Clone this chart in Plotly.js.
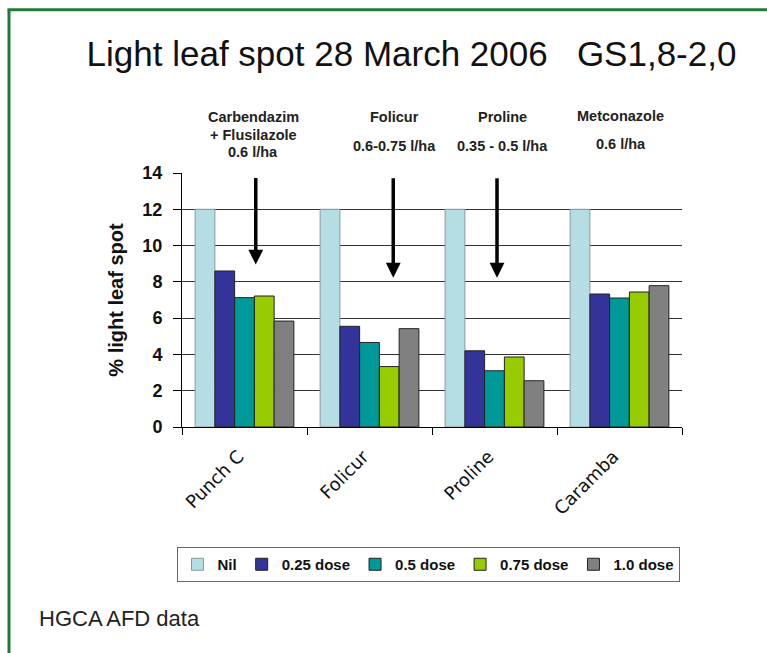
<!DOCTYPE html>
<html>
<head>
<meta charset="utf-8">
<script src="https://cdn.plot.ly/plotly-3.0.1.min.js"></script>
<style>
  html, body { margin: 0; padding: 0; background: #ffffff; }
  #chart { width: 767px; height: 653px; }
</style>
</head>
<body>
<div id="chart"></div>
<script>
// ---- data ----
const categories = ["Punch C", "Folicur", "Proline", "Caramba"];
const seriesNames = ["Nil", "0.25 dose", "0.5 dose", "0.75 dose", "1.0 dose"];
const nilValues  = [12, 12, 12, 12];
const dose025    = [8.6, 5.55, 4.2, 7.33];
const dose050    = [7.13, 4.66, 3.1, 7.11];
const dose075    = [7.22, 3.33, 3.86, 7.44];
const dose100    = [5.84, 5.42, 2.55, 7.79];
const yTicks = [0, 2, 4, 6, 8, 10, 12, 14];
const productNotes = [
  ["Carbendazim", "+ Flusilazole", "0.6 l/ha"],
  ["Folicur", "0.6-0.75 l/ha"],
  ["Proline", "0.35 - 0.5 l/ha"],
  ["Metconazole", "0.6 l/ha"]
];

// ---- styling ----
const colors = ["#b5dde4", "#333399", "#009999", "#99cc00", "#808080"];
const lineColors = ["#8a9a9c", "#222222", "#222222", "#222222", "#222222"];
const allValues = [nilValues, dose025, dose050, dose075, dose100];
const FONT = "Liberation Sans, Arial, sans-serif";

const traces = allValues.map((vals, i) => ({
  type: "bar",
  name: seriesNames[i],
  x: categories,
  y: vals,
  marker: { color: colors[i], line: { color: lineColors[i], width: 1 } },
  hoverinfo: "x+y+name"
}));

// plot geometry helpers (paper coords)
const L = 182, PW = 500, BOT = 427.3, PH = 254;
const px = v => (v - L) / PW;
const py = v => (BOT - v) / PH;

const noteFont = { family: FONT, size: 14.5, color: "#222222" };
const notePos = [
  { x: 253, ys: [117, 135, 152.7] },
  { x: 394, ys: [117.8, 145.8] },
  { x: 502, ys: [117.8, 145.8] },
  { x: 620.7, ys: [116.5, 143.8] }
];
const annotations = [];
productNotes.forEach((lines, gi) => {
  lines.forEach((t, li) => {
    annotations.push({
      xref: "paper", yref: "paper",
      x: px(notePos[gi].x), y: py(notePos[gi].ys[li]),
      xanchor: "center", yanchor: "middle",
      text: "<b>" + t + "</b>", showarrow: false, font: noteFont
    });
  });
});

// arrows
const arrowDefs = [
  { x: 0.09, y: 8.95, len: 88 },
  { x: 1.19, y: 8.23, len: 101 },
  { x: 2.02, y: 8.23, len: 101 }
];
arrowDefs.forEach(a => {
  annotations.push({
    xref: "x", yref: "y", x: a.x, y: a.y,
    ax: 0, ay: -a.len, text: "",
    showarrow: true, arrowhead: 2, arrowsize: 0.85, arrowwidth: 3.5,
    arrowcolor: "#000000", standoff: 0
  });
});

// footer
annotations.push({
  xref: "paper", yref: "paper", x: px(37), y: py(618.7),
  xanchor: "left", yanchor: "middle", showarrow: false,
  text: "HGCA AFD data", font: { family: FONT, size: 22, color: "#222222" }
});

const green = "#1e7b3a";
const shapes = [
  { type: "line", xref: "paper", yref: "paper",
    x0: px(9), x1: px(9), y0: py(10), y1: py(700),
    line: { color: green, width: 3 } },
  { type: "line", xref: "paper", yref: "paper",
    x0: px(7.5), x1: px(800), y0: py(10), y1: py(10),
    line: { color: green, width: 3 } }
];

const layout = {
  width: 767, height: 653,
  paper_bgcolor: "#ffffff", plot_bgcolor: "#ffffff",
  margin: { l: L, r: 767 - L - PW, t: 173, b: 653 - 173 - PH },
  barmode: "group", bargap: 0.21, bargroupgap: 0,
  title: {
    text: "Light leaf spot 28 March 2006&nbsp;&nbsp;&nbsp;GS1,8-2,0",
    font: { family: FONT, size: 35, color: "#111111" },
    xref: "container", yref: "container",
    x: 411.5 / 767, y: 1 - 53.5 / 653, xanchor: "center", yanchor: "middle"
  },
  xaxis: {
    type: "category",
    showline: true, linecolor: "#000000", linewidth: 1,
    ticks: "outside", tickson: "boundaries", ticklen: 7, tickcolor: "#000000",
    tickangle: -45, ticklabelstandoff: 11, ticklabelshift: -6,
    tickfont: { family: "DejaVu Sans, Verdana, sans-serif", size: 18, color: "#111111" },
    showgrid: false, zeroline: false, automargin: false
  },
  yaxis: {
    range: [0, 14], tickvals: yTicks, ticktext: yTicks.map(String),
    showline: true, linecolor: "#000000", linewidth: 1,
    ticks: "outside", ticklen: 8, tickcolor: "#000000",
    ticklabelstandoff: 7,
    tickfont: { family: FONT, size: 18, color: "#111111", weight: "bold" },
    showgrid: true, gridcolor: "#333333", gridwidth: 1,
    zeroline: false, automargin: false,
    title: {
      text: "<b>% light leaf spot</b>",
      font: { family: FONT, size: 20, color: "#111111" },
      standoff: 13
    }
  },
  legend: {
    orientation: "h", xref: "container", yref: "container",
    x: 428 / 767, xanchor: "center", y: 1 - 547 / 653, yanchor: "top",
    bordercolor: "#666666", borderwidth: 1, bgcolor: "#ffffff",
    font: { family: FONT, size: 15, color: "#111111", weight: "bold" },
    itemwidth: 30, traceorder: "normal"
  },
  annotations: annotations,
  shapes: shapes,
  showlegend: true
};

Plotly.newPlot("chart", traces, layout, { displayModeBar: false, staticPlot: true });
</script>
</body>
</html>
